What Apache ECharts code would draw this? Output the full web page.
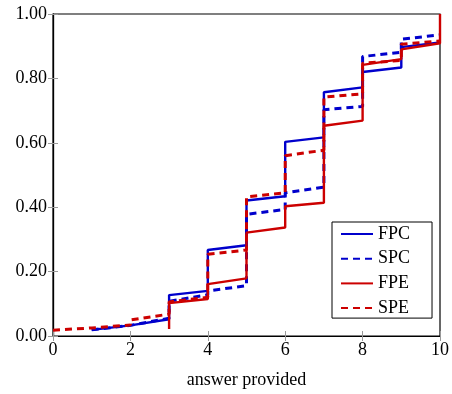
<!DOCTYPE html>
<html>
<head>
<meta charset="utf-8">
<script src="https://cdn.jsdelivr.net/npm/echarts@6/dist/echarts.min.js"></script>
<style>
  html, body { margin: 0; padding: 0; background: #fff; }
  #chart { width: 452px; height: 394px; }
</style>
</head>
<body>
<div id="chart"></div>
<script>
// each value pair is one segment [k, k+1]: value at its start and at its end
const fpcFrom = 1
const fpcLo = [0.019, 0.035, 0.127, 0.267, 0.421, 0.603, 0.757, 0.820, 0.897]
const fpcHi = [0.033, 0.052, 0.140, 0.282, 0.434, 0.617, 0.772, 0.834, 0.912]

const spcFrom = 1
const spcLo = [0.019, 0.035, 0.108, 0.140, 0.378, 0.445, 0.703, 0.868, 0.922]
const spcHi = [0.033, 0.055, 0.128, 0.156, 0.393, 0.462, 0.713, 0.881, 0.935]

const fpeFrom = 3
const fpeFirst = 0.022
const fpeLo = [0.102, 0.161, 0.321, 0.403, 0.653, 0.842, 0.890]
const fpeHi = [0.115, 0.179, 0.337, 0.414, 0.669, 0.860, 0.909]
const fpeLast = 1.0

const speFrom = 0
const speLo = [0.018, 0.025, 0.050, 0.106, 0.254, 0.432, 0.560, 0.742, 0.847, 0.906]
const speHi = [0.025, 0.034, 0.068, 0.120, 0.267, 0.445, 0.577, 0.752, 0.856, 0.916]

const xTicks = [0, 2, 4, 6, 8, 10]
const yTicks = [0, 0.2, 0.4, 0.6, 0.8, 1.0]

function buildSteps(from, lo, hi) {
  const pts = []
  lo.forEach((v, i) => {
    pts.push([from + i, v])
    pts.push([from + i + 1, hi[i]])
  })
  return pts
}

const fpeData = [[fpeFrom, fpeFirst]].concat(buildSteps(fpeFrom, fpeLo, fpeHi))
fpeData.push([fpeFrom + fpeLo.length, fpeLast])

const blue = '#0000cc'
const red = '#cc0000'
const font = 'Liberation Serif'

const chart = echarts.init(document.getElementById('chart'))

const tickStyle = { inside: true, length: 5, lineStyle: { color: '#999', width: 1 } }

chart.setOption({
  animation: false,
  textStyle: { fontFamily: font },
  grid: {
    left: 53, right: 11, top: 14, bottom: 57,
    show: true, borderColor: '#000', borderWidth: 1.2
  },
  legend: {
    orient: 'vertical',
    left: 332,
    top: 222,
    padding: [3, 22, 1, 8],
    itemGap: 6.7,
    itemWidth: 32,
    itemHeight: 14,
    backgroundColor: '#fff',
    borderColor: '#000',
    borderWidth: 1,
    // hide the round marker, keep only the line sample
    itemStyle: { opacity: 0 },
    textStyle: { fontFamily: font, fontSize: 18, color: '#000' },
    data: ['FPC', 'SPC', 'FPE', 'SPE']
  },
  xAxis: [{
    type: 'value',
    min: xTicks[0],
    max: xTicks[xTicks.length - 1],
    interval: 2,
    name: 'answer provided',
    nameLocation: 'middle',
    nameGap: 35,
    nameTextStyle: { fontFamily: font, fontSize: 18, color: '#000' },
    axisLine: { show: true, onZero: false, lineStyle: { color: '#444', width: 1.2 } },
    axisTick: tickStyle,
    axisLabel: { margin: 5, fontFamily: font, fontSize: 18, color: '#000' },
    splitLine: { show: false }
  }, {
    type: 'value',
    position: 'top',
    min: xTicks[0],
    max: xTicks[xTicks.length - 1],
    interval: 2,
    axisLine: { show: true, lineStyle: { color: '#000', width: 1.2 } },
    axisTick: tickStyle,
    axisLabel: { show: false },
    splitLine: { show: false }
  }],
  yAxis: [{
    type: 'value',
    min: yTicks[0],
    max: yTicks[yTicks.length - 1],
    interval: 0.2,
    axisLine: { show: true, onZero: false, lineStyle: { color: '#444', width: 1.2 } },
    axisTick: tickStyle,
    axisLabel: {
      margin: 6, fontFamily: font, fontSize: 18, color: '#000',
      formatter: v => v.toFixed(2)
    },
    splitLine: { show: false }
  }, {
    type: 'value',
    position: 'right',
    min: yTicks[0],
    max: yTicks[yTicks.length - 1],
    interval: 0.2,
    axisLine: { show: true, lineStyle: { color: '#000', width: 1.2 } },
    axisTick: tickStyle,
    axisLabel: { show: false },
    splitLine: { show: false }
  }],
  series: [
    {
      name: 'FPC', type: 'line', symbol: 'none', z: 2,
      data: buildSteps(fpcFrom, fpcLo, fpcHi),
      itemStyle: { color: blue },
      lineStyle: { color: blue, width: 2.4 }
    },
    {
      name: 'SPC', type: 'line', symbol: 'none', z: 3,
      data: buildSteps(spcFrom, spcLo, spcHi),
      itemStyle: { color: blue },
      lineStyle: { color: blue, width: 3, type: [7, 5] }
    },
    {
      name: 'FPE', type: 'line', symbol: 'none', z: 4,
      data: fpeData,
      itemStyle: { color: red },
      lineStyle: { color: red, width: 2.4 }
    },
    {
      name: 'SPE', type: 'line', symbol: 'none', z: 5,
      data: buildSteps(speFrom, speLo, speHi),
      itemStyle: { color: red },
      lineStyle: { color: red, width: 3, type: [7, 5] }
    }
  ]
})
</script>
</body>
</html>
